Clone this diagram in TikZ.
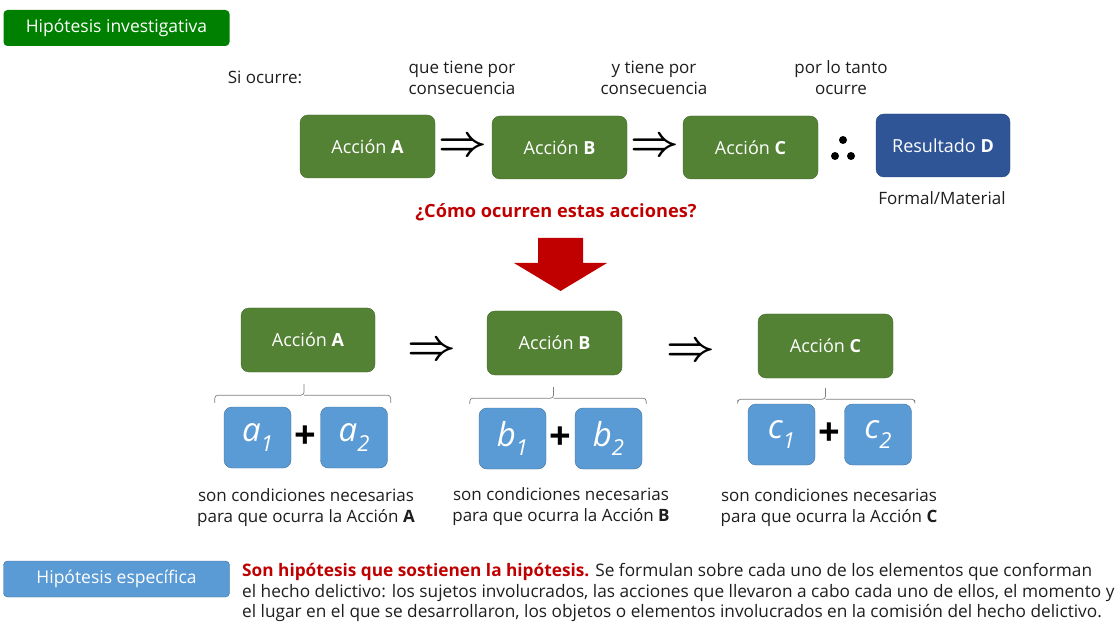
\documentclass[tikz,border=0pt]{standalone}
\usepackage{fontspec}
\setmainfont{Open Sans}
\usepackage{amssymb}
\usepackage{amsmath}
\usetikzlibrary{positioning,calc}

\definecolor{hipgreen}{RGB}{0,128,0}
\definecolor{accgreen}{RGB}{84,130,53}
\definecolor{resblue}{RGB}{47,85,151}
\definecolor{condblue}{RGB}{91,155,213}
\definecolor{condline}{RGB}{65,113,156}
\definecolor{askred}{RGB}{192,0,0}
\definecolor{txt}{RGB}{30,30,30}

\begin{document}
\begin{tikzpicture}[x=1pt,y=-1pt,
	greenbox/.style={fill=accgreen,draw=accgreen!80!black,rounded corners=8pt,text=white,minimum width=135pt,minimum height=63pt,font=\fontsize{18}{21}\selectfont},
	condbox/.style={fill=condblue,draw=condline,rounded corners=8pt,text=white,minimum width=67pt,minimum height=61pt,font=\fontsize{33}{36}\selectfont\itshape},
	tagbox/.style={rounded corners=4pt,text=white,minimum width=226pt,minimum height=36pt,font=\fontsize{17.5}{20}\selectfont},
	note/.style={text=txt,align=center,font=\fontsize{17}{21}\selectfont},
	implies/.style={text=black,scale=1.7,font=\Huge\boldmath},
	plus/.style={font=\fontsize{38}{38}\selectfont\bfseries},
	brace/.style={draw=black!50,line width=0.7pt,rounded corners=3pt}]
	\useasboundingbox (0,0) rectangle (1119,628);

	%titles
	\node[tagbox,fill=hipgreen] (hipinv) at (116.5,28) {Hipótesis investigativa};
	\node[tagbox,fill=condblue,draw=condline] (hipesp) at (116.5,579) {Hipótesis específica};

	%top row
	\node[note] (siocurre) at (265,77) {Si ocurre:};
	\node[note] (consec1) at (462,78) {que tiene por\\consecuencia};
	\node[note] (consec2) at (654,78) {y tiene por\\consecuencia};
	\node[note] (portanto) at (841,78) {por lo tanto\\ocurre};

	\node[greenbox] (accA) at (367.5,146.5) {Acción \textbf{A}};
	\node[greenbox] (accB) at (559.5,147.5) {Acción \textbf{B}};
	\node[greenbox] (accC) at (750.5,147.5) {Acción \textbf{C}};
	\node[greenbox,fill=resblue,draw=resblue!80!black,minimum width=134pt] (resD) at (943,145.5) {Resultado \textbf{D}};
	\node[implies] (impAB) at (463,147) {$\Rightarrow$};
	\node[implies] (impBC) at (655,147) {$\Rightarrow$};
	\coordinate (ergo) at (843,149);
	\fill (ergo)+(0,-9) circle (4) (ergo)+(-8,7) circle (4) (ergo)+(8,7) circle (4);
	\node[note] (formal) at (942,198) {Formal/Material};

	%question and red arrow
	\node[text=askred,font=\fontsize{18.2}{21}\selectfont\bfseries] (pregunta) at (556,212) {¿Cómo ocurren estas acciones?};
	\fill[askred] (538,238) -- (583,238) -- (583,263) -- (607,263) -- (560.5,291) -- (514,263) -- (538,263) -- cycle;

	%lower row
	\node[greenbox,minimum width=134pt,minimum height=64pt] (condA) at (308,340) {Acción \textbf{A}};
	\node[greenbox,minimum height=64pt] (condB) at (554.5,343) {Acción \textbf{B}};
	\node[greenbox,minimum height=64pt] (condC) at (825.5,346) {Acción \textbf{C}};
	\node[implies] (impAB2) at (432,351) {$\Rightarrow$};
	\node[implies] (impBC2) at (691,352) {$\Rightarrow$};

	\node[condbox] (a1) at (257.5,437.5) {a\raisebox{-0.3em}{\fontsize{22}{22}\selectfont 1}};
	\node[condbox] (a2) at (354,437.5) {a\raisebox{-0.3em}{\fontsize{22}{22}\selectfont 2}};
	\node[condbox] (b1) at (512.5,438.5) {b\raisebox{-0.3em}{\fontsize{22}{22}\selectfont 1}};
	\node[condbox] (b2) at (608.5,438.5) {b\raisebox{-0.3em}{\fontsize{22}{22}\selectfont 2}};
	\node[condbox] (c1) at (781.5,434.5) {c\raisebox{-0.3em}{\fontsize{22}{22}\selectfont 1}};
	\node[condbox] (c2) at (878,434.5) {c\raisebox{-0.3em}{\fontsize{22}{22}\selectfont 2}};
	\node[plus] (plusA) at ($(a1)!0.5!(a2)$) {+};
	\node[plus] (plusB) at ($(b1)!0.5!(b2)$) {+};
	\node[plus] (plusC) at ($(c1)!0.5!(c2)$) {+};

	%brackets
	\coordinate (tickA) at ($(condA.south)+(-4,12)$);
	\coordinate (tickB) at ($(condB.south)+(-1,12)$);
	\coordinate (tickC) at ($(condC.south)+(0,10)$);
	\draw[brace] ($(a1.north west)+(-9,-4)$) |- ($(tickA)+(0,11)$) -- (tickA);
	\draw[brace] ($(a2.north east)+(3,-4)$) |- ($(tickA)+(0,11)$);
	\draw[brace] ($(b1.north west)+(-9,-4)$) |- ($(tickB)+(0,11)$) -- (tickB);
	\draw[brace] ($(b2.north east)+(4,-4)$) |- ($(tickB)+(0,11)$);
	\draw[brace] ($(c1.north west)+(-10,-4)$) |- ($(tickC)+(0,11)$) -- (tickC);
	\draw[brace] ($(c2.north east)+(3,-4)$) |- ($(tickC)+(0,11)$);

	%conditions text
	\node[note] (necA) at (306,508) {son condiciones necesarias\\para que ocurra la Acción \textbf{A}};
	\node[note] (necB) at (561,507) {son condiciones necesarias\\para que ocurra la Acción \textbf{B}};
	\node[note] (necC) at (829,508) {son condiciones necesarias\\para que ocurra la Acción \textbf{C}};

	%bottom paragraph
	\node[note,font=\fontsize{17.25}{21}\selectfont,anchor=west,inner sep=0pt] (par1) at (242,572) {{\color{askred}\bfseries Son hipótesis que sostienen la hipótesis.} Se formulan sobre cada uno de los elementos que conforman};
	\node[note,font=\fontsize{17.25}{21}\selectfont,anchor=west,inner sep=0pt] (par2) at (242,593) {el hecho delictivo: los sujetos involucrados, las acciones que llevaron a cabo cada uno de ellos, el momento y};
	\node[note,font=\fontsize{17.25}{21}\selectfont,anchor=west,inner sep=0pt] (par3) at (242,613) {el lugar en el que se desarrollaron, los objetos o elementos involucrados en la comisión del hecho delictivo.};
\end{tikzpicture}
\end{document}
